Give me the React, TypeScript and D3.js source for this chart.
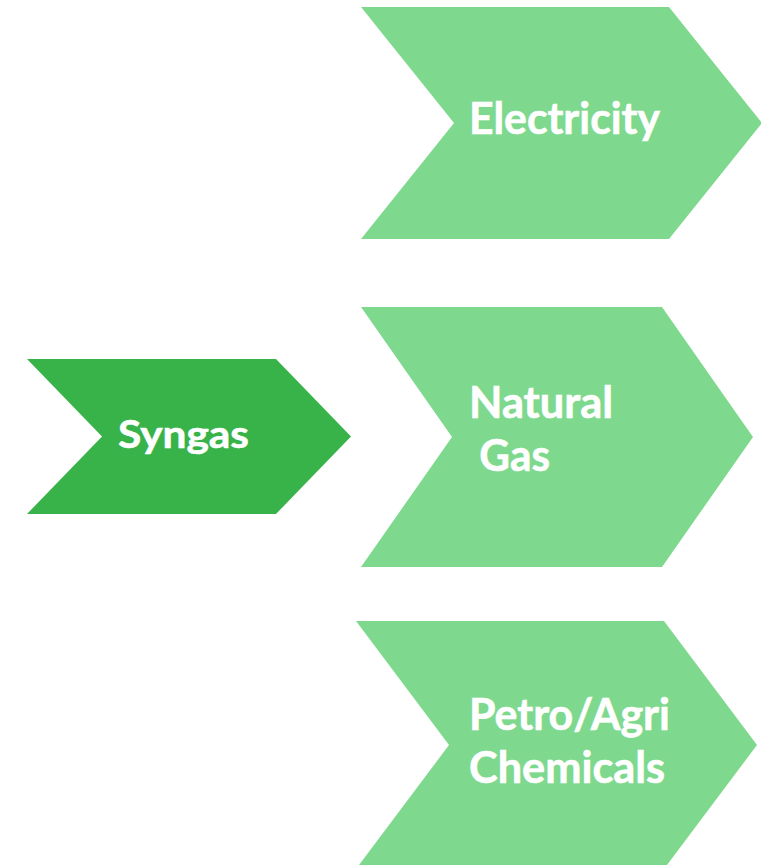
import React, { useEffect, useRef } from "react";
import * as d3 from "d3";

// labels (one line per entry)
const sourceLabel = ["Syngas"];
const productLabels = [["Electricity"], ["Natural", " Gas"], ["Petro/Agri", "Chemicals"]];
const lineWidths = [[191], [144, 71], [201, 196]];
const sourceWidth = [131];

const W = 761;
const H = 865;

function chevronPath(x0: number, y0: number, w: number, h: number, depth: number) {
  const line = d3.line();
  return line([
    [x0, y0],
    [x0 + w, y0],
    [x0 + w + depth, y0 + h / 2],
    [x0 + w, y0 + h],
    [x0, y0 + h],
    [x0 + depth, y0 + h / 2],
  ]) + "Z";
}

function App() {
  const svgRef = useRef(null);

  useEffect(() => {
    const svg = d3.select(svgRef.current);
    svg.selectAll("*").remove();

    // product chevrons
    const boxes = [
      { x: 361, y: 7, w: 308, h: 232, d: 93, tx: 469, ty: [134] },
      { x: 361, y: 307, w: 301, h: 260, d: 91, tx: 469, ty: [418, 471] },
      { x: 356, y: 621, w: 308, h: 248, d: 93, tx: 469, ty: [730, 783] },
    ];

    boxes.forEach((b, i) => {
      svg
        .append("path")
        .attr("d", chevronPath(b.x, b.y, b.w, b.h, b.d))
        .attr("fill", "#7ED98E");

      productLabels[i].forEach((t, j) => {
        svg
          .append("text")
          .attr("x", b.tx)
          .attr("y", b.ty[j])
          .attr("fill", "#ffffff")
          .attr("stroke", "#ffffff")
          .attr("stroke-width", 0.6)
          .attr("font-family", "Lato, 'Open Sans', sans-serif")
          .attr("font-weight", "bold")
          .attr("font-size", 43)
          .attr("xml:space", "preserve")
          .style("white-space", "pre")
          .attr("textLength", t.startsWith(" ") ? lineWidths[i][j] + 10 : lineWidths[i][j])
          .attr("lengthAdjust", "spacingAndGlyphs")
          .text(t);
      });
    });

    // source chevron
    svg
      .append("path")
      .attr("d", chevronPath(27, 359, 249, 155, 75))
      .attr("fill", "#37B34A");

    svg
      .append("text")
      .attr("x", 118)
      .attr("y", 448)
      .attr("fill", "#ffffff")
      .attr("stroke", "#ffffff")
      .attr("stroke-width", 0.6)
      .attr("font-family", "Lato, 'Open Sans', sans-serif")
      .attr("font-weight", "bold")
      .attr("font-size", 39)
      .attr("textLength", sourceWidth[0])
      .attr("lengthAdjust", "spacingAndGlyphs")
      .text(sourceLabel[0]);
  }, []);

  return (
    <div>
      <svg
        ref={svgRef}
        width={W}
        height={H}
        style={{ position: "absolute", left: 0, top: 0, background: "#ffffff" }}
      ></svg>
    </div>
  );
}

export default App;
